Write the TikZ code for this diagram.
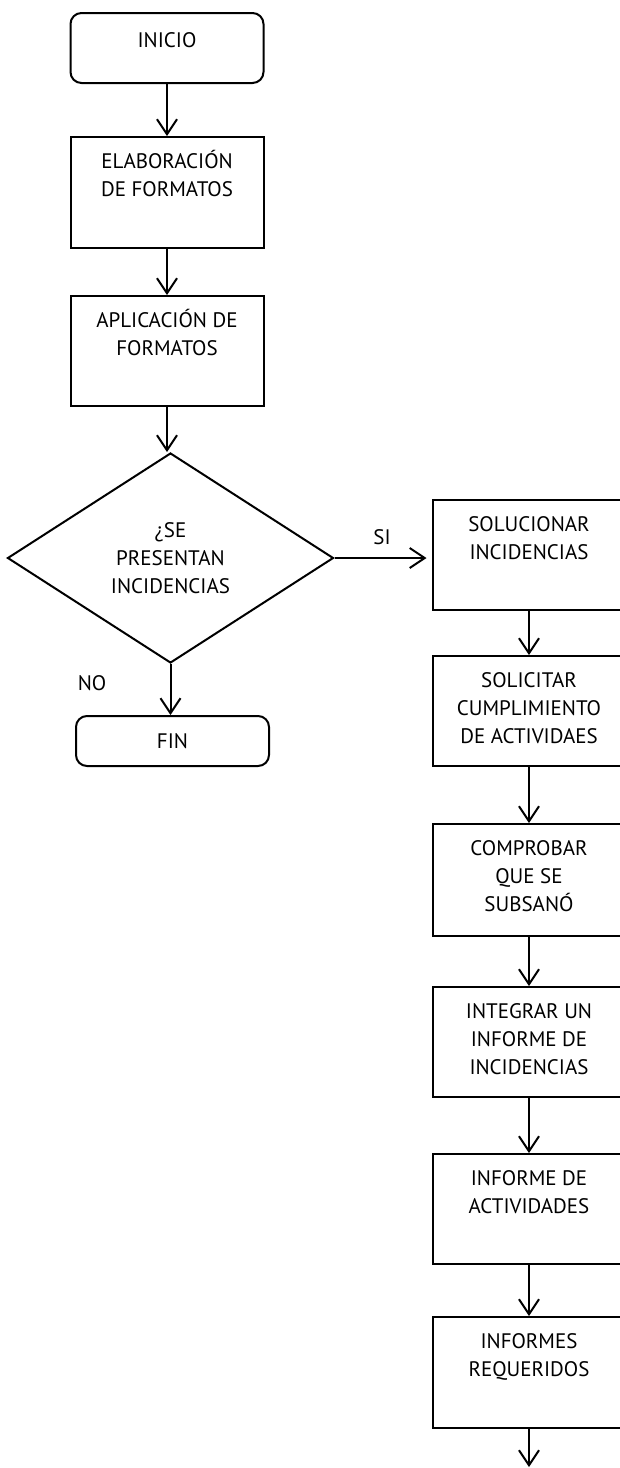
\documentclass[tikz,border=0pt]{standalone}
\usepackage{fontspec}
\setmainfont{PT Sans}
\usetikzlibrary{shapes.geometric,arrows.meta}
\begin{document}
\begin{tikzpicture}[x=1pt,y=-1pt,
  every node/.style={font=\fontsize{21}{28}\selectfont},
  proc/.style={draw,line width=2pt,minimum width=193pt,minimum height=#1,inner sep=0pt},
  txt/.style={align=center,inner sep=0pt,anchor=north,yshift=-14pt},
  term/.style={draw,line width=2pt,rounded corners=11pt,minimum width=193pt,minimum height=#1,inner sep=0pt},
  arr/.style={line width=2pt,-{Straight Barb[length=15pt,width=20pt,line width=2pt]}}]
\useasboundingbox (0,0) rectangle (620,1468);
\node[term=70pt] (inicio) at (167,48) {};
\node[txt,yshift=-3pt] at (inicio.north) {\vphantom{Ó}INICIO};
\node[proc=111pt] (elab) at (167,192.5) {};
\node[txt] at (elab.north) {\vphantom{Ó}ELABORACIÓN\\DE FORMATOS};
\node[proc=110pt] (aplic) at (167,351) {};
\node[txt] at (aplic.north) {\vphantom{Ó}APLICACIÓN DE\\FORMATOS};
\node[draw,diamond,line width=2pt,aspect=1.55,minimum width=326pt,minimum height=210pt,inner sep=0pt,align=center] (pregunta) at (170.5,558) {¿SE\\PRESENTAN\\INCIDENCIAS};
\node at (382,537) {SI};
\node at (92,683) {NO};
\node[term=50pt] (fin) at (172.5,741) {FIN};
\node[proc=110pt] (soluc) at (529,555) {};
\node[txt] at (soluc.north) {\vphantom{Ó}SOLUCIONAR\\INCIDENCIAS};
\node[proc=110pt] (solic) at (529,711) {};
\node[txt] at (solic.north) {\vphantom{Ó}SOLICITAR\\CUMPLIMIENTO\\DE ACTIVIDAES};
\node[proc=112pt] (compr) at (529,880) {};
\node[txt] at (compr.north) {\vphantom{Ó}COMPROBAR\\QUE SE\\SUBSANÓ};
\node[proc=110pt] (integ) at (529,1042) {};
\node[txt] at (integ.north) {\vphantom{Ó}INTEGRAR UN\\INFORME DE\\INCIDENCIAS};
\node[proc=110pt] (infact) at (529,1209) {};
\node[txt] at (infact.north) {\vphantom{Ó}INFORME DE\\ACTIVIDADES};
\node[proc=111pt] (infreq) at (529,1372.5) {};
\node[txt] at (infreq.north) {\vphantom{Ó}INFORMES\\REQUERIDOS};
\coordinate (salida) at (529,1467);
\draw[arr] (inicio) -- (elab);
\draw[arr] (elab) -- (aplic);
\draw[arr] (aplic) -- (aplic |- pregunta.north);
\draw[arr,shorten >=5pt] (pregunta.east) -- (pregunta.east -| soluc.west);
\draw[arr] (pregunta.south) -- (pregunta.south |- fin.north);
\draw[arr] (soluc) -- (solic);
\draw[arr] (solic) -- (compr);
\draw[arr] (compr) -- (integ);
\draw[arr] (integ) -- (infact);
\draw[arr] (infact) -- (infreq);
\draw[arr] (infreq) -- (salida);
\end{tikzpicture}
\end{document}
